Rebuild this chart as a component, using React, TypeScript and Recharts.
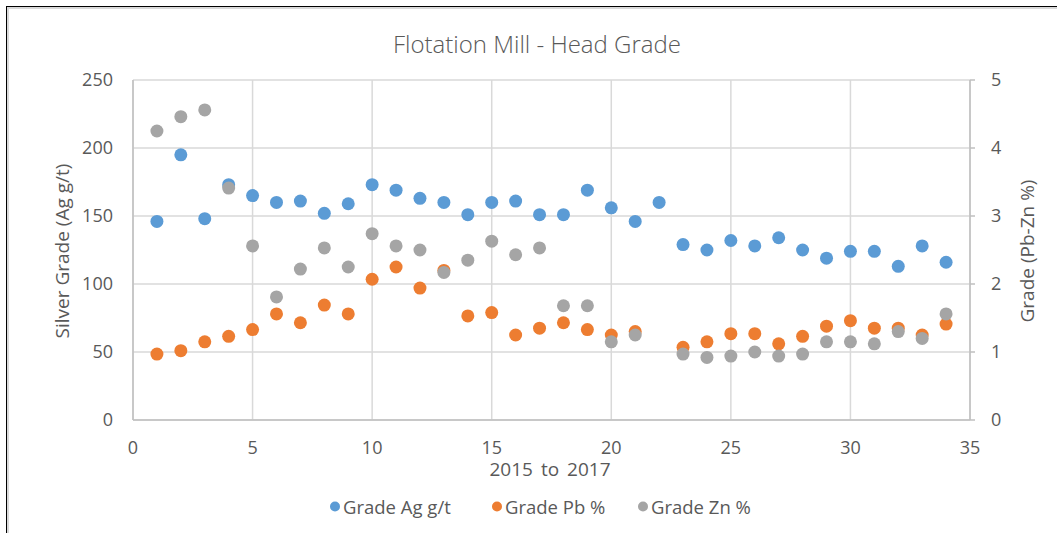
import React from "react";
import { ScatterChart, Scatter, XAxis, YAxis, CartesianGrid } from "recharts";

const periods = [1,2,3,4,5,6,7,8,9,10,11,12,13,14,15,16,17,18,19,20,21,22,23,24,25,26,27,28,29,30,31,32,33,34];
const agGrade = [146,195,148,173,165,160,161,152,159,173,169,163,160,151,160,161,151,151,169,156,146,160,129,125,132,128,134,125,119,124,124,113,128,116];
const pbGrade: (number | null)[] = [0.97,1.02,1.15,1.23,1.33,1.56,1.43,1.69,1.56,2.07,2.25,1.94,2.2,1.53,1.58,1.25,1.35,1.43,1.33,1.25,1.3,null,1.07,1.15,1.27,1.27,1.12,1.23,1.38,1.46,1.35,1.35,1.25,1.41];
const znGrade: (number | null)[] = [4.25,4.46,4.56,3.41,2.56,1.81,2.22,2.53,2.25,2.74,2.56,2.5,2.17,2.35,2.63,2.43,2.53,1.68,1.68,1.15,1.25,null,0.97,0.92,0.94,1.0,0.94,0.97,1.15,1.15,1.12,1.3,1.2,1.56];

const xTicks = [0,5,10,15,20,25,30,35];
const leftTicks = [0,50,100,150,200,250];
const rightTicks = [0,1,2,3,4,5];

const seriesNames = ["Grade Ag g/t", "Grade Pb %", "Grade Zn %"];
const seriesColors = ["#5b9bd5", "#ed7d31", "#a5a5a5"];

const toPoints = (vals: (number | null)[]) =>
  periods.map((x, i) => ({ x, y: vals[i] })).filter((p) => p.y !== null && p.y !== undefined);

const agData = toPoints(agGrade);
const pbData = toPoints(pbGrade);
const znData = toPoints(znGrade);

const FONT = "'Open Sans', 'DejaVu Sans', sans-serif";
const TXT = "#595959";

const dot = (color: string) => (props: any) => (
  <circle cx={props.cx} cy={props.cy} r={6.5} fill={color} />
);

const legendDotX = [335, 497, 643];

export default function App() {
  return (
    <div style={{ position: "fixed", left: 0, top: 0, width: 1057, height: 533, background: "#fff", fontFamily: FONT }}>
      <div style={{ position: "absolute", left: 6, top: 6, right: 0, bottom: 0, borderTop: "1px solid #000", borderLeft: "1px solid #000" }} />
      <div style={{ position: "absolute", left: 7, top: 7, right: 0, bottom: 0, borderTop: "2px solid #d9d9d9", borderLeft: "2px solid #d9d9d9" }} />
      <ScatterChart width={1057} height={533} margin={{ top: 80, right: 27, bottom: 73, left: 73 }} style={{ position: "absolute", left: 0, top: 0 }}>
        <CartesianGrid yAxisId="left" stroke="#d9d9d9" strokeWidth={1.5} />
        <XAxis
          type="number"
          dataKey="x"
          domain={[0, 35]}
          ticks={xTicks}
          allowDataOverflow
          height={40}
          tickLine={false}
          tickSize={5}
          tickMargin={16}
          axisLine={{ stroke: "#bfbfbf", strokeWidth: 1.5 }}
          tick={{ fill: TXT, fontSize: 18, fontFamily: FONT }}
        />
        <YAxis
          yAxisId="left"
          type="number"
          dataKey="y"
          domain={[0, 250]}
          ticks={leftTicks}
          width={60}
          tickLine={false}
          tickSize={5}
          tickMargin={15}
          axisLine={{ stroke: "#bfbfbf", strokeWidth: 1.5 }}
          tick={{ fill: TXT, fontSize: 18, fontFamily: FONT }}
        />
        <YAxis
          yAxisId="right"
          orientation="right"
          type="number"
          dataKey="y"
          domain={[0, 5]}
          ticks={rightTicks}
          width={60}
          tickLine={{ stroke: "#bfbfbf", strokeWidth: 1.5 }}
          tickSize={5}
          tickMargin={16}
          axisLine={{ stroke: "#bfbfbf", strokeWidth: 1.5 }}
          tick={{ fill: TXT, fontSize: 18, fontFamily: FONT }}
        />
        <Scatter name={seriesNames[0]} data={agData} yAxisId="left" fill={seriesColors[0]} shape={dot(seriesColors[0])} isAnimationActive={false} />
        <Scatter name={seriesNames[1]} data={pbData} yAxisId="right" fill={seriesColors[1]} shape={dot(seriesColors[1])} isAnimationActive={false} />
        <Scatter name={seriesNames[2]} data={znData} yAxisId="right" fill={seriesColors[2]} shape={dot(seriesColors[2])} isAnimationActive={false} />
      </ScatterChart>
      <div style={{ position: "absolute", left: 537, top: 43, transform: "translate(-50%, -50%)", fontSize: 24, color: TXT, whiteSpace: "nowrap", fontWeight: 300 }}>
        Flotation Mill - Head Grade
      </div>
      <div style={{ position: "absolute", left: 550, top: 469, transform: "translate(-50%, -50%)", fontSize: 19, lineHeight: "20px", color: TXT, whiteSpace: "nowrap", wordSpacing: 3 }}>
        2015 to 2017
      </div>
      <div style={{ position: "absolute", left: 62, top: 251, transform: "translate(-50%, -50%) rotate(-90deg)", fontSize: 19, color: TXT, whiteSpace: "nowrap" }}>
        Silver Grade (Ag g/t)
      </div>
      <div style={{ position: "absolute", left: 1027, top: 251, transform: "translate(-50%, -50%) rotate(-90deg)", fontSize: 19, color: TXT, whiteSpace: "nowrap" }}>
        Grade (Pb-Zn %)
      </div>
      {seriesNames.map((name, i) => (
        <div key={name} style={{ position: "absolute", left: legendDotX[i] - 5, top: 506, transform: "translateY(-50%)", display: "flex", alignItems: "center", fontSize: 18.5, color: TXT, whiteSpace: "nowrap" }}>
          <span style={{ display: "inline-block", width: 10, height: 10, borderRadius: 5, background: seriesColors[i], marginRight: 3 }} />
          {name}
        </div>
      ))}
    </div>
  );
}
